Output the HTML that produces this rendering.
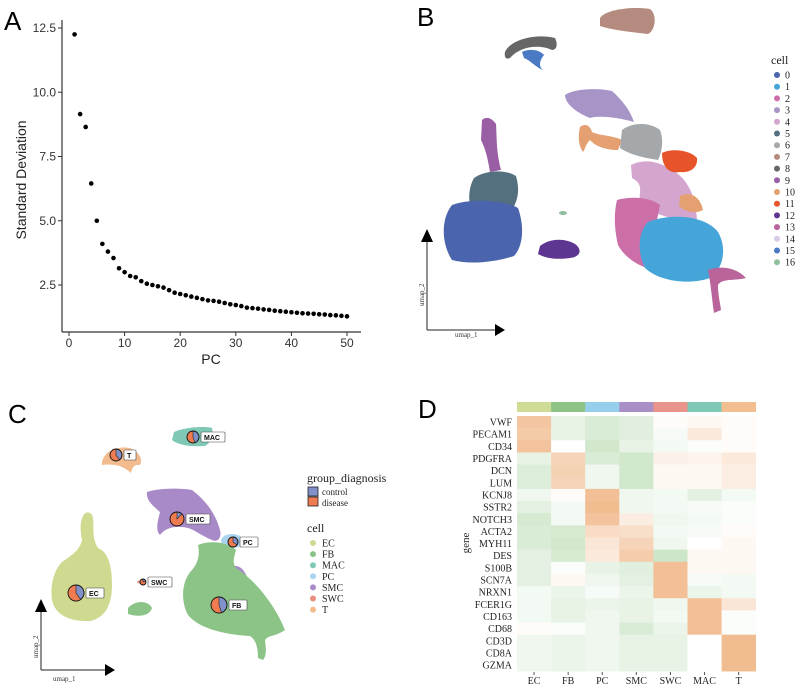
<!DOCTYPE html>
<html><head><meta charset="utf-8"><style>
html,body{margin:0;padding:0;background:#fff;}
svg{display:block;}
.sans{font-family:"Liberation Sans",sans-serif;}
.serif{font-family:"Liberation Serif",serif;}
</style></head><body>
<svg id="fig" width="800" height="686" viewBox="0 0 800 686" xmlns="http://www.w3.org/2000/svg">
<!-- Panel labels -->
<text x="4" y="30" class="sans" font-size="26">A</text>
<text x="417" y="26" class="sans" font-size="26">B</text>
<text x="8" y="423" class="sans" font-size="26">C</text>
<text x="418" y="418" class="sans" font-size="26">D</text>

<!-- Panel A -->
<g id="pa">
<line x1="62" y1="20" x2="62" y2="332" stroke="#333" stroke-width="1.2"/>
<line x1="62" y1="332" x2="361" y2="332" stroke="#333" stroke-width="1.2"/>
<text transform="translate(26,180) rotate(-90)" text-anchor="middle" class="sans" font-size="14" fill="#222">Standard Deviation</text>
<text x="211" y="364" text-anchor="middle" class="sans" font-size="14" fill="#222">PC</text>
</g>

<!-- Panel B -->
<g id="pb">
<path d="M600,18 C605,10 630,6 650,9 C657,14 656,30 648,34 C630,32 612,30 600,26 Z" fill="#b48b7e"/>
<path d="M505,52 C510,40 535,33 555,38 C558,44 557,50 552,50 C540,44 520,46 510,58 C506,60 504,57 505,52 Z" fill="#666"/>
<path d="M522,52 C530,48 540,50 544,55 C540,60 538,66 543,70 C535,67 530,60 524,58 Z" fill="#4a7ac4"/>
<path d="M482,120 C486,116 492,118 496,124 C497,140 496,150 501,170 L490,172 C488,160 486,150 481,140 Z" fill="#9a5ea4"/>
<path d="M474,178 C485,170 505,169 516,176 C520,190 518,200 512,210 L470,205 C468,195 470,185 474,178 Z" fill="#54707e"/>
<path d="M452,205 C470,198 505,200 518,208 C524,225 524,245 514,256 C495,262 470,265 452,260 C442,245 440,220 452,205 Z" fill="#4a64ad"/>
<path d="M540,246 C550,238 565,238 575,244 C583,250 580,257 570,258 C555,260 545,258 538,254 Z" fill="#5e3591"/>
<ellipse cx="563" cy="213" rx="4" ry="2" fill="#8fbf9c"/>
<path d="M565,95 C575,88 600,88 612,91 C622,100 630,110 634,122 C620,118 600,115 590,118 C575,112 565,103 565,95 Z" fill="#a895c8"/>
<path d="M580,127 C585,123 590,125 592,132 C600,136 612,135 622,140 L618,150 C605,150 595,146 590,140 C585,145 585,150 583,152 C578,145 578,135 580,127 Z" fill="#e4a070"/>
<path d="M622,130 C632,122 650,122 660,130 C664,140 662,152 658,160 C645,158 630,155 620,148 Z" fill="#a4a8aa"/>
<path d="M631,165 C645,158 660,162 672,170 C690,180 696,200 697,220 C680,222 655,215 640,205 C638,192 645,185 632,178 Z" fill="#d4a5cf"/>
<path d="M662,153 C672,148 690,150 697,158 C698,168 690,173 680,172 C670,174 662,168 662,153 Z" fill="#e8542a"/>
<path d="M680,196 C690,191 700,196 703,210 C696,214 685,212 679,206 Z" fill="#e4a070"/>
<path d="M617,200 C630,196 650,197 660,205 C655,230 650,250 660,272 C640,268 625,258 618,245 C614,228 614,212 617,200 Z" fill="#cc6ea8"/>
<path d="M648,222 C670,213 705,215 718,232 C727,248 724,268 710,278 C690,285 660,282 645,268 C637,252 638,232 648,222 Z" fill="#45a4d8"/>
<path d="M708,270 C718,266 735,266 746,278 C735,281 722,278 718,285 C718,295 720,302 721,310 L714,313 C712,300 711,285 708,270 Z" fill="#b9649a"/>
<!-- axes arrows -->
<line x1="427" y1="330" x2="427" y2="240" stroke="#222" stroke-width="1"/>
<polygon points="421,242 433,242 427,229" fill="#000"/>
<line x1="427" y1="330" x2="497" y2="330" stroke="#222" stroke-width="1"/>
<polygon points="495,324 495,336 505,330" fill="#000"/>
<text x="455" y="337" class="serif" font-size="7" fill="#333">umap_1</text>
<text transform="translate(424,306) rotate(-90)" class="serif" font-size="7" fill="#333">umap_2</text>
<text x="771" y="64" class="serif" font-size="12" fill="#222">cell</text>
<g id="legb"></g>
</g>

<!-- Panel C -->
<g id="pc">
<path d="M174,432 C185,427 205,426 212,428 C214,437 210,443 205,446 C190,447 178,445 172,440 Z" fill="#7fc8b5"/>
<path d="M102,462 C105,450 118,446 130,448 C140,452 143,460 140,465 C134,464 132,468 131,473 C125,468 118,463 102,465 Z" fill="#f2bc8e"/>
<path d="M147,492 C160,488 180,488 192,490 C205,500 215,512 220,530 C222,537 218,543 212,540 C200,535 195,530 188,528 C175,525 165,528 160,535 C155,530 158,520 160,512 C152,505 146,500 147,492 Z" fill="#a98ac8"/>
<path d="M233,566 C240,565 245,570 248,580 C245,585 238,580 233,574 Z" fill="#a98ac8"/>
<ellipse cx="232" cy="541" rx="11" ry="7" fill="#a9d3ef"/>
<path d="M83,516 C86,510 92,512 93,518 C94,530 92,538 98,548 C108,552 112,565 112,585 C112,605 105,618 90,621 C70,622 55,615 52,600 C50,585 54,570 62,562 C72,555 80,550 82,540 C80,530 80,522 83,516 Z" fill="#cfd98f"/>
<path d="M128,608 C135,600 148,600 152,608 C150,615 140,618 128,614 Z" fill="#8cc488"/>
<path d="M198,545 C210,540 228,542 236,550 C234,558 232,562 236,568 C255,580 275,605 285,630 C275,637 268,635 265,640 C266,648 267,655 263,660 L258,658 C258,648 256,640 250,636 C230,635 200,630 188,615 C180,600 182,580 192,570 C198,563 200,555 198,545 Z" fill="#8cc488"/>
<ellipse cx="140" cy="582" rx="3" ry="1.5" fill="#e88e80"/>
<line x1="41" y1="670" x2="41" y2="610" stroke="#222" stroke-width="1"/>
<polygon points="35,612 47,612 41,599" fill="#000"/>
<line x1="41" y1="670" x2="107" y2="670" stroke="#222" stroke-width="1"/>
<polygon points="105,664 105,676 115,670" fill="#000"/>
<text x="53" y="681" class="serif" font-size="7" fill="#333">umap_1</text>
<text transform="translate(38,658) rotate(-90)" class="serif" font-size="7" fill="#333">umap_2</text>
<g id="pies"></g>
<text x="307" y="482" class="serif" font-size="12" fill="#222">group_diagnosis</text>
<rect x="308" y="487" width="10" height="9" fill="#8090c8" stroke="#222" stroke-width="0.8"/>
<rect x="308" y="497" width="10" height="9" fill="#ef7b50" stroke="#222" stroke-width="0.8"/>
<text x="322" y="495" class="serif" font-size="9" fill="#222">control</text>
<text x="322" y="506" class="serif" font-size="9" fill="#222">disease</text>
<text x="307" y="532" class="serif" font-size="12" fill="#222">cell</text>
<g id="legc"></g>
</g>

<!-- Panel D -->
<g id="pd">
<text transform="translate(469,543) rotate(-90)" text-anchor="middle" class="serif" font-size="11" fill="#222">gene</text>
</g>
</svg>
<script>
var NS='http://www.w3.org/2000/svg';
function mk(tag,attrs,parent,txt){var e=document.createElementNS(NS,tag);for(var k in attrs)e.setAttribute(k,attrs[k]);if(txt!==undefined)e.textContent=txt;parent.appendChild(e);return e;}

// ---- Panel A data ----
var pcIndex=[1,2,3,4,5,6,7,8,9,10,11,12,13,14,15,16,17,18,19,20,21,22,23,24,25,26,27,28,29,30,31,32,33,34,35,36,37,38,39,40,41,42,43,44,45,46,47,48,49,50];
var stdev=[12.25,9.15,8.65,6.45,5.0,4.1,3.8,3.55,3.15,3.0,2.85,2.8,2.65,2.55,2.5,2.45,2.4,2.3,2.2,2.15,2.1,2.05,2.0,1.95,1.9,1.88,1.85,1.8,1.75,1.72,1.68,1.62,1.6,1.58,1.55,1.53,1.5,1.48,1.46,1.44,1.42,1.4,1.39,1.38,1.36,1.35,1.33,1.32,1.3,1.28];
var aXTicks=[0,10,20,30,40,50];
var aYTicks=[2.5,5.0,7.5,10.0,12.5];
function ax(v){return 69+v*5.56;}
function ay(v){return 28+(12.5-v)*25.7;}
var pa=document.getElementById('pa');
aXTicks.forEach(function(t){
  var l=mk('line',{x1:ax(t),y1:332,x2:ax(t),y2:336,stroke:'#333'},pa);
  
  
  var tx=mk('text',{x:ax(t),y:347,'text-anchor':'middle','class':'sans','font-size':'12',fill:'#333'},pa,String(t));
  
  
});
aYTicks.forEach(function(t){
  var l=mk('line',{x1:58,y1:ay(t),x2:62,y2:ay(t),stroke:'#333'},pa);
  
  
  var tx=mk('text',{x:56,y:ay(t)+4,'text-anchor':'end','class':'sans','font-size':'12',fill:'#333'},pa,t.toFixed(1));
  
  
});
pcIndex.forEach(function(p,i){
  var c=mk('circle',{cx:ax(p),cy:ay(stdev[i]),r:2.3,fill:'#000'},pa);
  
  
});

// ---- Panel B legend ----
var bLabels=['0','1','2','3','4','5','6','7','8','9','10','11','12','13','14','15','16'];
var bColors=['#4a64ad','#45a4d8','#cc6ea8','#a895c8','#d4a5cf','#54707e','#a4a8aa','#b48b7e','#666666','#9a5ea4','#e4a070','#e8542a','#5e3591','#b9649a','#d8cbe6','#4a7ac4','#8fbf9c'];
var legb=document.getElementById('legb');
bLabels.forEach(function(l,i){
  var y=75+i*11.7;
  var c=mk('circle',{cx:777,cy:y,r:3,fill:bColors[i]},legb);
  
  
  var t=mk('text',{x:785,y:y+3.5,'class':'serif','font-size':'10',fill:'#222'},legb,l);
  
  
});

// ---- Panel C legend & pies ----
var cLabels=['EC','FB','MAC','PC','SMC','SWC','T'];
var cColors=['#cfd98f','#8cc488','#7fc8b5','#a9d3ef','#a98ac8','#e88e80','#f2bc8e'];
var legc=document.getElementById('legc');
cLabels.forEach(function(l,i){
  var y=543+i*11.1;
  var c=mk('circle',{cx:313,cy:y,r:3,fill:cColors[i]},legc);
  
  
  var t=mk('text',{x:322,y:y+3.5,'class':'serif','font-size':'10',fill:'#222'},legc,l);
  
  
});
var pieNames=['MAC','T','SMC','PC','EC','SWC','FB'];
var pieControlFrac=[0.45,0.4,0.12,0.35,0.4,0.2,0.45];
var pieCX=[193,116,177,233,76,143,219];
var pieCY=[437,455,519,542,593,582,605];
var pieR=[6,6,7,5,8,3,8];
var pies=document.getElementById('pies');
pieNames.forEach(function(n,i){
  var cx=pieCX[i],cy=pieCY[i],r=pieR[i],f=pieControlFrac[i];
  var g=mk('g',{},pies);
  
  
  mk('circle',{cx:cx,cy:cy,r:r,fill:'#ef7b50'},g);
  var a=f*2*Math.PI, x1=cx, y1=cy-r, x2=cx+r*Math.sin(a), y2=cy-r*Math.cos(a);
  mk('path',{d:'M'+cx+','+cy+' L'+x1+','+y1+' A'+r+','+r+' 0 '+(f>0.5?1:0)+' 1 '+x2+','+y2+' Z',fill:'#8090c8',stroke:'#222','stroke-width':0.6},g);
  mk('circle',{cx:cx,cy:cy,r:r,fill:'none',stroke:'#111','stroke-width':0.9},g);
  var w=n.length*6+6;
  mk('rect',{x:cx+r+2,y:cy-5,width:w,height:10,fill:'#fff',stroke:'#444','stroke-width':0.6,rx:1},g);
  mk('text',{x:cx+r+5,y:cy+3,'class':'sans','font-size':'7','font-weight':'bold',fill:'#111'},g,n);
});

// ---- Panel D heatmap ----
var genes=['VWF','PECAM1','CD34','PDGFRA','DCN','LUM','KCNJ8','SSTR2','NOTCH3','ACTA2','MYH11','DES','S100B','SCN7A','NRXN1','FCER1G','CD163','CD68','CD3D','CD8A','GZMA'];
var cellTypes=['EC','FB','PC','SMC','SWC','MAC','T'];
var headerColors=['#cfdc96','#8dc485','#96cfec','#a98fc5','#e9948a','#7fc8b5','#f3bf91'];
var expr=[
[0.8,-0.3,-0.5,-0.4,0.05,0.1,0.05],
[0.75,-0.3,-0.5,-0.4,-0.1,0.3,0.05],
[0.85,0.0,-0.6,-0.3,-0.15,-0.05,0.05],
[-0.3,0.6,-0.5,-0.6,0.2,0.15,0.3],
[-0.45,0.65,-0.2,-0.6,0.1,0.1,0.25],
[-0.45,0.6,-0.2,-0.6,0.1,0.1,0.25],
[-0.2,0.05,0.9,-0.2,-0.15,-0.35,-0.15],
[-0.35,-0.15,0.95,-0.2,-0.15,-0.1,-0.05],
[-0.55,-0.15,0.85,0.25,-0.2,-0.15,-0.05],
[-0.5,-0.55,0.5,0.45,-0.15,-0.1,0.05],
[-0.5,-0.6,0.35,0.6,-0.2,0.0,0.1],
[-0.35,-0.55,0.3,0.7,-0.65,0.1,0.1],
[-0.35,-0.05,-0.3,-0.4,0.9,0.1,0.1],
[-0.35,0.1,-0.2,-0.35,0.9,-0.1,-0.15],
[-0.15,-0.25,-0.1,-0.25,0.9,-0.25,-0.15],
[-0.15,-0.3,-0.25,-0.3,-0.2,0.9,0.35],
[-0.15,-0.3,-0.2,-0.3,-0.15,0.9,-0.05],
[0.05,-0.05,-0.2,-0.5,-0.25,0.9,-0.05],
[-0.2,-0.25,-0.2,-0.3,-0.3,0.0,0.95],
[-0.2,-0.25,-0.2,-0.3,-0.3,0.0,0.95],
[-0.2,-0.25,-0.2,-0.3,-0.3,0.0,0.95]];
var hx0=517,cw=34.1,hy0=416,rh=12.15;
function hx(j){return hx0+j*cw;}
function hy(i){return hy0+i*rh;}
function colorFor(v){
  var base=[255,255,255], t=Math.min(1,Math.abs(v)), target=v>=0?[240,184,138]:[178,216,172];
  var c=base.map(function(b,k){return Math.round(b+(target[k]-b)*t);});
  return 'rgb('+c.join(',')+')';
}
var pd=document.getElementById('pd');
cellTypes.forEach(function(ct,j){
  var r=mk('rect',{x:hx(j),y:402,width:cw+0.3,height:10,fill:headerColors[j]},pd);
  
  
  var t=mk('text',{x:hx(j)+cw/2,y:684,'text-anchor':'middle','class':'serif','font-size':'10',fill:'#222'},pd,ct);
  
  
  var tk=mk('line',{x1:hx(j)+cw/2,y1:672,x2:hx(j)+cw/2,y2:675,stroke:'#555'},pd);
  
  
});
genes.forEach(function(g,i){
  expr[i].forEach(function(v,j){
    var r=mk('rect',{x:hx(j),y:hy(i),width:cw+0.3,height:rh+0.3,fill:colorFor(v)},pd);
    
    
  });
  var t=mk('text',{x:512,y:hy(i)+rh/2+3.5,'text-anchor':'end','class':'serif','font-size':'10',fill:'#222'},pd,g);
  
  
});
</script>
</body></html>
